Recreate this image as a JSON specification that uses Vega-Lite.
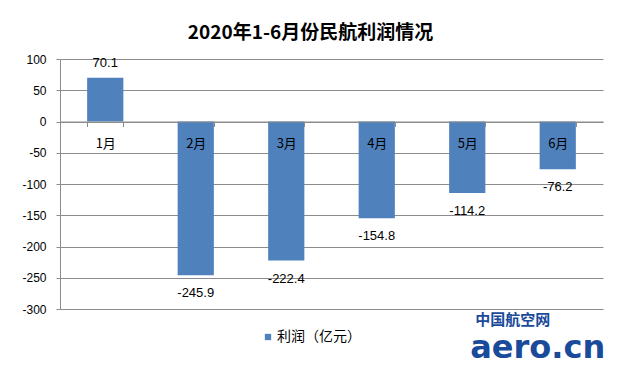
{
  "$schema": "https://vega.github.io/schema/vega-lite/v6.json",
  "width": 543,
  "height": 250,
  "autosize": {"type": "none"},
  "padding": {"left": 60, "top": 59, "right": 17, "bottom": 56},
  "background": "white",
  "title": {
    "text": "2020年1-6月份民航利润情况",
    "font": "Noto Sans CJK SC",
    "fontSize": 19,
    "fontWeight": "bold",
    "color": "#000000",
    "anchor": "middle",
    "dx": -21,
    "offset": 10
  },
  "config": {"view": {"stroke": null}},
  "data": {
    "values": [
      {"month": "1月", "value": 70.1, "series": "利润（亿元）"},
      {"month": "2月", "value": -245.9, "series": "利润（亿元）"},
      {"month": "3月", "value": -222.4, "series": "利润（亿元）"},
      {"month": "4月", "value": -154.8, "series": "利润（亿元）"},
      {"month": "5月", "value": -114.2, "series": "利润（亿元）"},
      {"month": "6月", "value": -76.2, "series": "利润（亿元）"}
    ]
  },
  "encoding": {
    "x": {
      "field": "month",
      "type": "nominal",
      "sort": null,
      "scale": {"paddingInner": 0.6, "paddingOuter": 0.3},
      "axis": {
        "orient": "bottom",
        "offset": -187.5,
        "title": null,
        "labelAngle": 0,
        "domainColor": "#8c8c8c",
        "tickColor": "#8c8c8c",
        "tickSize": 5,
        "tickBand": "extent",
        "labelPadding": 11,
        "labelFont": "Noto Sans CJK SC",
        "labelFontSize": 13,
        "labelColor": "#000000",
        "zindex": 1,
        "grid": false
      }
    },
    "y": {
      "field": "value",
      "type": "quantitative",
      "scale": {"domain": [-300, 100], "nice": false, "zero": false},
      "axis": {
        "values": [-300, -250, -200, -150, -100, -50, 0, 50, 100],
        "labelExpr": "replace(datum.label, '−', '-')",
        "title": null,
        "grid": true,
        "gridColor": "#8c8c8c",
        "domainColor": "#8c8c8c",
        "tickColor": "#8c8c8c",
        "tickSize": 4,
        "labelPadding": 10,
        "labelFont": "Liberation Sans",
        "labelFontSize": 12,
        "labelColor": "#000000"
      }
    }
  },
  "layer": [
    {
      "mark": {"type": "bar"},
      "encoding": {
        "color": {
          "field": "series",
          "type": "nominal",
          "scale": {"range": ["#4F81BD"]},
          "legend": {
            "title": null,
            "orient": "none",
            "legendX": 201,
            "legendY": 271,
            "symbolType": "square",
            "symbolSize": 40,
            "symbolStrokeWidth": 0,
            "labelFont": "Noto Sans CJK SC",
            "labelFontSize": 14,
            "labelColor": "#000000",
            "labelOffset": 2
          }
        }
      }
    },
    {
      "transform": [{"filter": "datum.value >= 0"}],
      "mark": {"type": "text", "baseline": "middle", "dy": -15, "font": "Liberation Sans", "fontSize": 13, "color": "#000000"},
      "encoding": {"text": {"field": "value", "type": "nominal"}}
    },
    {
      "transform": [{"filter": "datum.value < 0"}],
      "mark": {"type": "text", "baseline": "middle", "dy": 18, "font": "Liberation Sans", "fontSize": 13, "color": "#000000"},
      "encoding": {"text": {"field": "value", "type": "nominal"}}
    },
    {
      "data": {"values": [{"month": "6月", "value": -300, "logo": "中国航空网"}]},
      "mark": {"type": "text", "baseline": "middle", "dx": -45, "dy": 11, "font": "Noto Sans CJK SC", "fontSize": 15, "fontWeight": "bold", "color": "#1a4a9a", "clip": false},
      "encoding": {"text": {"field": "logo"}}
    },
    {
      "data": {"values": [{"month": "6月", "value": -300, "logo": "aero.cn"}]},
      "mark": {"type": "text", "baseline": "alphabetic", "dx": -20, "dy": 49, "font": "DejaVu Sans", "fontSize": 32, "fontWeight": "bold", "color": "#1a4a9a", "clip": false},
      "encoding": {"text": {"field": "logo"}}
    }
  ]
}
